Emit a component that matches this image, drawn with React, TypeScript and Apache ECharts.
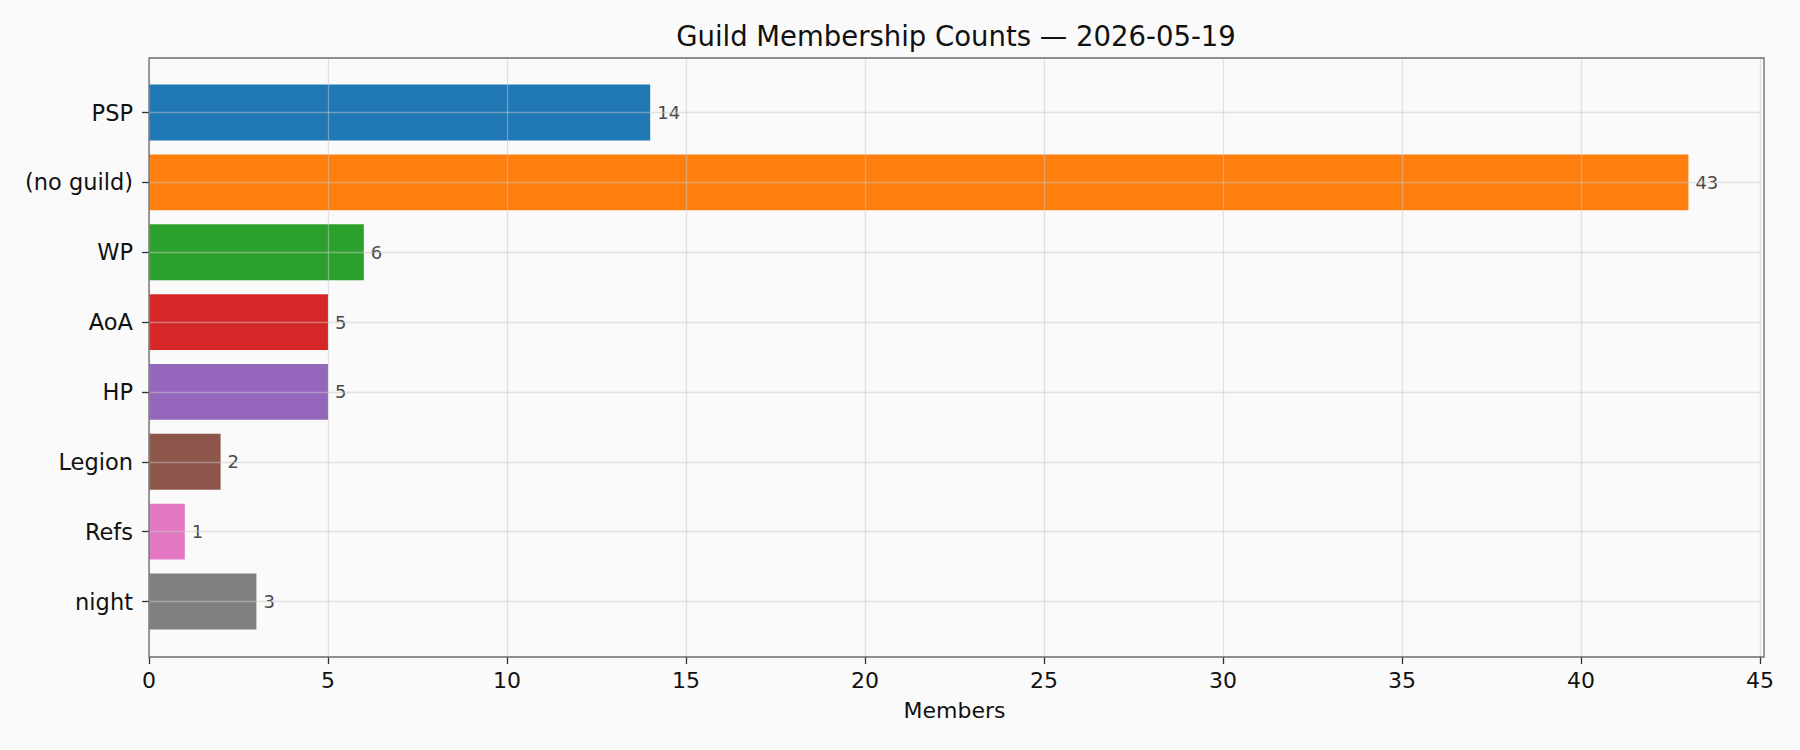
import React, { useEffect, useRef } from 'react';
import * as echarts from 'echarts';

// guild names, top to bottom as in the chart
const guilds = ['PSP', '(no guild)', 'WP', 'AoA', 'HP', 'Legion', 'Refs', 'night'];
const members = [14, 43, 6, 5, 5, 2, 1, 3];
const barColors = ['#1f77b4', '#ff7f0e', '#2ca02c', '#d62728', '#9467bd', '#8c564b', '#e377c2', '#7f7f7f'];
const xTicks = [0, 5, 10, 15, 20, 25, 30, 35, 40, 45];

const FONT = '"DejaVu Sans", sans-serif';
const GRID_LINE = 'rgba(200,200,200,0.5)';

const App: React.FC = () => {
  const chartRef = useRef<HTMLDivElement | null>(null);

  useEffect(() => {
    document.body.style.margin = '0';
    const chart = echarts.init(chartRef.current!, null, { renderer: 'svg' });

    const option = {
      animation: false,
      backgroundColor: '#fafafa',
      textStyle: { fontFamily: FONT },
      grid: [
        // full frame: x axis, vertical grid lines
        { left: 149, right: 40, top: 58, bottom: 93 },
        // bars: category centres line up with matplotlib's positions
        { left: 149, right: 40, top: 112.5, bottom: 148.5 },
      ],
      xAxis: [
        {
          gridIndex: 0,
          type: 'value',
          min: xTicks[0],
          max: xTicks[xTicks.length - 1],
          interval: 5,
          z: 3,
          name: 'Members',
          nameLocation: 'middle',
          nameGap: 42,
          nameTextStyle: { fontFamily: FONT, fontSize: 22, color: '#111' },
          axisLine: { show: false },
          axisTick: { show: true, length: 7, lineStyle: { color: '#333', width: 1.3 } },
          axisLabel: { fontFamily: FONT, fontSize: 22, color: '#111', margin: 12 },
          splitLine: { show: true, lineStyle: { color: GRID_LINE, width: 1.3 } },
        },
        {
          gridIndex: 1,
          type: 'value',
          min: xTicks[0],
          max: xTicks[xTicks.length - 1],
          show: false,
        },
      ],
      yAxis: [
        { gridIndex: 0, type: 'value', show: false },
        {
          gridIndex: 1,
          type: 'category',
          data: guilds,
          inverse: true,
          boundaryGap: false,
          z: 3,
          axisLine: { show: false },
          axisTick: { show: true, length: 7, interval: 0, lineStyle: { color: '#333', width: 1.3 } },
          axisLabel: { fontFamily: FONT, fontSize: 22.5, color: '#111', margin: 16, interval: 0 },
          splitLine: { show: true, interval: 0, lineStyle: { color: GRID_LINE, width: 1.3 } },
        },
      ],
      series: [
        {
          type: 'bar',
          xAxisIndex: 1,
          yAxisIndex: 1,
          barWidth: '80%',
          clip: false,
          data: members.map((v, i) => ({ value: v, itemStyle: { color: barColors[i] } })),
          label: {
            show: true,
            position: 'right',
            distance: 7,
            fontFamily: FONT,
            fontSize: 18,
            color: '#4a4a4a',
          },
        },
      ],
      graphic: [
        {
          type: 'text',
          x: 956,
          y: 22,
          silent: true,
          style: {
            text: 'Guild Membership Counts — 2026-05-19',
            align: 'center',
            verticalAlign: 'top',
            fontFamily: FONT,
            fontSize: 27.5,
            fill: '#111',
          },
        },
        {
          type: 'rect',
          z: 100,
          silent: true,
          shape: { x: 149, y: 58, width: 1615, height: 599 },
          style: { fill: 'none', stroke: '#6b6b6b', lineWidth: 1.3 },
        },
      ],
    };

    chart.setOption(option);
    return () => {
      chart.dispose();
    };
  }, []);

  return <div ref={chartRef} style={{ width: '1800px', height: '750px' }} />;
};

export default App;
